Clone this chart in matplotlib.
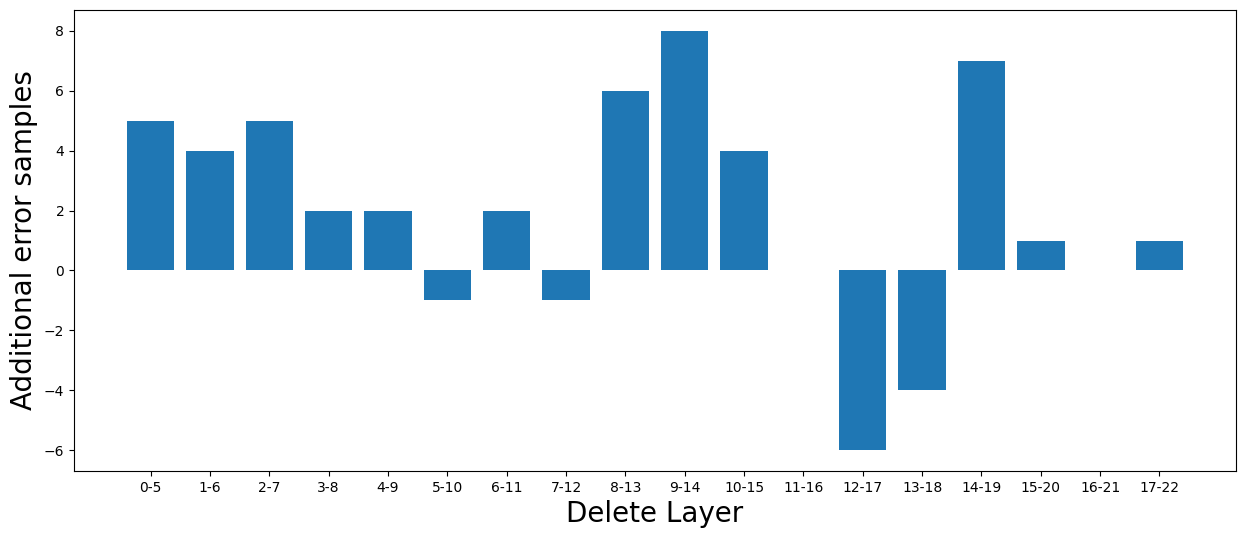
import matplotlib
matplotlib.use('Agg')
import matplotlib.pyplot as plt

layers = ['0-5', '1-6', '2-7', '3-8', '4-9', '5-10', '6-11', '7-12', '8-13', '9-14',
          '10-15', '11-16', '12-17', '13-18', '14-19', '15-20', '16-21', '17-22']
extra_errors = [5, 4, 5, 2, 2, -1, 2, -1, 6, 8, 4, 0, -6, -4, 7, 1, 0, 1]

fig = plt.figure(figsize=(12.46, 5.39), dpi=100)
ax = fig.add_axes([0.0594, 0.1262, 0.9326, 0.8552])
ax.bar(layers, extra_errors)
ax.set_xlabel('Delete Layer', fontsize=20)
ax.set_ylabel('Additional error samples', fontsize=20)

fig.savefig('out.png', dpi=100)
